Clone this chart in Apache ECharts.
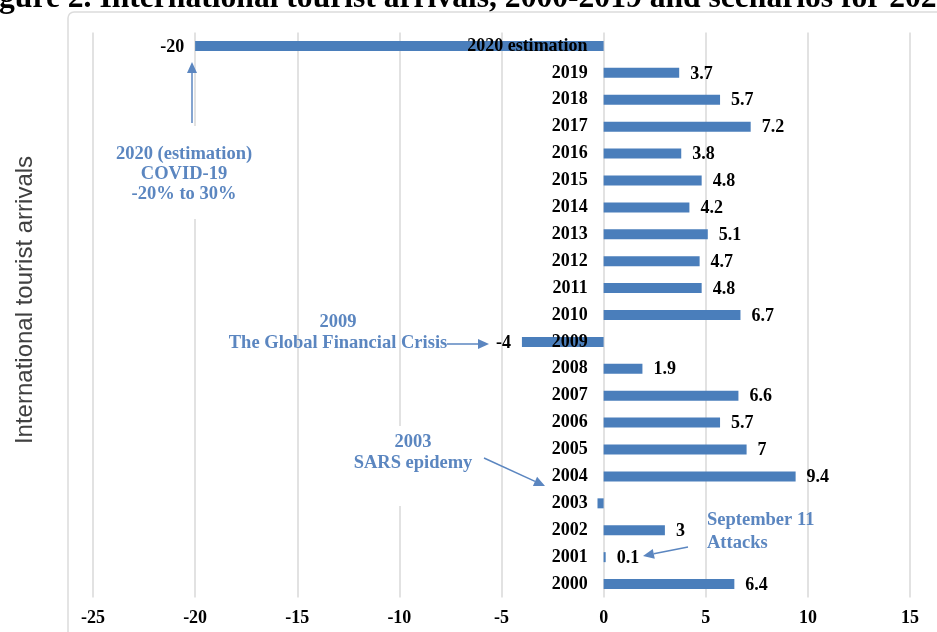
<!DOCTYPE html>
<html>
<head>
<meta charset="utf-8">
<script src="https://cdn.jsdelivr.net/npm/echarts@6/dist/echarts.min.js"></script>
<style>
  html, body { margin: 0; padding: 0; background: #fff; }
  #chart { width: 937px; height: 632px; }
</style>
</head>
<body>
<div id="chart"></div>
<script>
// 类目（从下往上）
const years = ['2000', '2001', '2002', '2003', '2004', '2005', '2006', '2007', '2008', '2009',
  '2010', '2011', '2012', '2013', '2014', '2015', '2016', '2017', '2018', '2019', '2020 estimation']
// 增长率 %
const growth = [6.4, 0.1, 3, -0.3, 9.4, 7, 5.7, 6.6, 1.9, -4,
  6.7, 4.8, 4.7, 5.1, 4.2, 4.8, 3.8, 7.2, 5.7, 3.7, -20]
const xTicks = [-25, -20, -15, -10, -5, 0, 5, 10, 15]

const barColor = '#4a7ebb'
const noteColor = '#5b86c0'
const serifBold = 'bold 18.5px "Liberation Serif", "DejaVu Serif", serif'

const gridLeft = 93
const gridRight = 27
const chartWidth = 937

const chart = echarts.init(document.getElementById('chart'))

const barData = growth.map((v, i) => {
  const item = { value: v, label: { position: v < 0 ? 'left' : 'right' } }
  // 2003 的数值标签与类目重叠，原图不可读
  if (years[i] === '2003') item.label.show = false
  return item
})

// 类目轴放在 x=0 处：按 x 轴范围算偏移
const xMin = xTicks[0], xMax = xTicks[xTicks.length - 1]
const plotW = chartWidth - gridLeft - gridRight
const zeroOffset = -((0 - xMin) / (xMax - xMin)) * plotW

// 箭头：线段 + 三角形箭头
const arrow = (x1, y1, x2, y2) => {
  const a = Math.atan2(y2 - y1, x2 - x1)
  const len = 11, w = 5
  const bx = x2 - len * Math.cos(a), by = y2 - len * Math.sin(a)
  return [
    { type: 'line', z: 20, shape: { x1, y1, x2: bx, y2: by }, style: { stroke: noteColor, lineWidth: 1.5 } },
    {
      type: 'polygon', z: 20,
      shape: { points: [[x2, y2], [bx + w * Math.sin(a), by - w * Math.cos(a)], [bx - w * Math.sin(a), by + w * Math.cos(a)]] },
      style: { fill: noteColor }
    }
  ]
}

const note = (x, y, text, align, lineHeight, padding) => ({
  type: 'text', z: 19, x, y,
  style: {
    text, fill: noteColor, font: serifBold, align: align, verticalAlign: 'top',
    lineHeight: lineHeight,
    backgroundColor: padding ? '#fff' : 'transparent',
    padding: padding || 0
  }
})

const labelFont = {
  color: '#000',
  fontFamily: '"Liberation Serif", serif',
  fontWeight: 'bold',
  fontSize: 18
}

const options = {
  animation: false,
  grid: { left: gridLeft, right: gridRight, top: 32.5, bottom: 34.5, containLabel: false, outerBoundsMode: 'none' },
  xAxis: {
    type: 'value',
    min: xMin,
    max: xMax,
    interval: 5,
    axisLine: { show: false },
    axisTick: { show: false },
    axisLabel: {
      margin: 12,
      ...labelFont,
      formatter: (v) => xTicks.includes(v) ? String(v) : ''
    },
    splitLine: { show: true, lineStyle: { color: '#d9d9d9', width: 1.5 } }
  },
  yAxis: {
    type: 'category',
    data: years,
    z: 5,
    offset: zeroOffset,
    axisLine: { show: false, onZero: false },
    axisTick: { show: false },
    axisLabel: {
      margin: 16,
      ...labelFont
    }
  },
  series: [
    {
      type: 'bar',
      data: barData,
      barWidth: 10,
      itemStyle: { color: barColor },
      label: {
        show: true,
        distance: 11,
        offset: [0, 1],
        ...labelFont,
        formatter: '{c}'
      }
    }
  ],
  graphic: [
    // 外框
    {
      type: 'rect', z: -10, silent: true,
      shape: { x: 68, y: 12, width: 900, height: 660, r: 6 },
      style: { fill: 'none', stroke: '#dcdcdc', lineWidth: 1.5 }
    },
    // 被裁掉的标题
    {
      type: 'text', z: 30, x: -29, y: 15,
      style: {
        text: 'Figure 2. International tourist arrivals, 2000-2019 and scenarios for 2020',
        font: 'bold 31.6px "Liberation Serif", serif', fill: '#000', verticalAlign: 'bottom'
      }
    },
    // 纵轴标题
    {
      type: 'text', z: 30, x: 25, y: 300, rotation: Math.PI / 2,
      style: {
        text: 'International tourist arrivals',
        font: '24px "Liberation Sans", Arial, sans-serif', fill: '#404040',
        align: 'center', verticalAlign: 'middle'
      }
    },
    note(184, 126, '2020 (estimation)\nCOVID-19\n-20% to 30%', 'center', 20, [18, 4, 15, 4]),
    note(338, 311.5, '2009\nThe Global Financial Crisis', 'center', 21),
    note(413, 426, '2003\nSARS epidemy', 'center', 21, [6, 4, 32, 4]),
    note(707, 508.5, 'September 11\nAttacks', 'left', 23),
    ...arrow(192, 123, 192, 62),
    ...arrow(447, 344, 489, 344),
    ...arrow(484, 458, 545, 486),
    ...arrow(688, 547, 643, 556)
  ]
}

chart.setOption(options)
</script>
</body>
</html>
